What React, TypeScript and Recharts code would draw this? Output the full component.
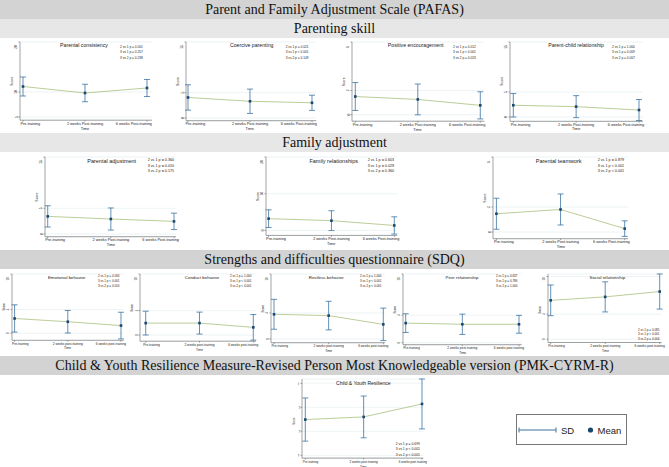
import React from "react"
import { LineChart, Line, XAxis, YAxis, CartesianGrid, ErrorBar } from "recharts"

const pafasTime = ["Pre-training", "2 weeks Post-training", "6 weeks Post-training"]
const sdqTime = ["Pre-training", "2 weeks post-training", "6 weeks post-training"]

// Parenting skill
const consistencyMean = [11.1, 9.8, 10.8]
const consistencySd = [1.9, 1.75, 1.7]
const consistencyTicks = [5, 10, 15, 20]
const consistencyP = ["2 vs 1 p = 0.001", "3 vs 1 p = 0.257", "3 vs 2 p = 0.238"]

const coerciveMean = [4.05, 3.3, 3.0]
const coerciveSd = [2.5, 2.4, 1.5]
const coerciveTicks = [0, 5, 10, 15]
const coerciveP = ["2 vs 1 p = 0.021", "3 vs 1 p < 0.001", "3 vs 2 p = 0.149"]

const encouragementMean = [1.5, 1.26, 0.77]
const encouragementSd = [1.15, 1.27, 1.12]
const encouragementTicks = [0, 2, 4, 6]
const encouragementP = ["2 vs 1 p = 0.012", "3 vs 1 p < 0.001", "3 vs 2 p = 0.023"]

const parentChildMean = [2.35, 2.07, 1.4]
const parentChildSd = [2.35, 2.2, 2.1]
const parentChildTicks = [0, 5, 10, 15]
const parentChildP = ["2 vs 1 p = 1.000", "3 vs 1 p = 0.009", "3 vs 2 p = 0.007"]

// Family adjustment
const adjustmentMean = [3.43, 2.92, 2.46]
const adjustmentSd = [2.07, 2.15, 1.6]
const adjustmentTicks = [0, 5, 10, 15]
const adjustmentP = ["2 vs 1 p = 0.360", "3 vs 1 p = 0.010", "3 vs 2 p = 0.175"]

const familyRelMean = [3.2, 2.65, 1.35]
const familyRelSd = [2.4, 2.7, 2.35]
const familyRelTicks = [0, 5, 10, 15, 20]
const familyRelP = ["2 vs 1 p = 0.603", "3 vs 1 p = 0.029", "3 vs 2 p = 0.360"]

const teamworkMean = [1.46, 1.8, 0.27]
const teamworkSd = [1.24, 1.24, 0.62]
const teamworkTicks = [0, 2, 4, 6]
const teamworkP = ["2 vs 1 p = 0.879", "3 vs 1 p < 0.001", "3 vs 2 p < 0.001"]

// SDQ
const emotionalMean = [2.5, 1.95, 1.3]
const emotionalSd = [2.3, 1.9, 2.25]
const emotionalTicks = [0, 2, 4, 6, 8, 10]
const emotionalP = ["2 vs 1 p = 0.034", "3 vs 1 p < 0.001", "3 vs 2 p = 0.016"]

const conductMean = [1.95, 1.95, 1.25]
const conductSd = [1.95, 1.8, 2.1]
const conductTicks = [0, 2, 4, 6, 8, 10]
const conductP = ["2 vs 1 p = 1.000", "3 vs 1 p < 0.001", "3 vs 2 p < 0.001"]

const restlessMean = [3.8, 3.6, 2.25]
const restlessSd = [2.3, 2.2, 2.5]
const restlessTicks = [0, 2, 4, 6, 8, 10]
const restlessP = ["2 vs 1 p = 1.000", "3 vs 1 p < 0.001", "3 vs 2 p < 0.001"]

const peerMean = [2.85, 2.68, 2.68]
const peerSd = [1.36, 1.48, 1.3]
const peerTicks = [0, 2, 4, 6, 8, 10]
const peerP = ["2 vs 1 p = 0.637", "3 vs 1 p = 0.786", "3 vs 2 p = 1.000"]

const socialMean = [6.2, 6.75, 7.6]
const socialSd = [2.45, 2.4, 2.8]
const socialTicks = [0, 2, 4, 6, 8, 10]
const socialP = ["2 vs 1 p = 0.085", "3 vs 1 p < 0.001", "3 vs 2 p = 0.004"]

// PMK-CYRM-R
const resilienceMean = [54.9, 56.0, 61.4]
const resilienceSd = [9.0, 8.7, 10.4]
const resilienceTicks = [40, 45, 50, 55, 60, 65, 70]
const resilienceP = ["2 vs 1 p = 0.699", "3 vs 1 p < 0.001", "3 vs 2 p < 0.001"]

const SANS = "'Liberation Sans', Arial, Helvetica, sans-serif"
const SERIF = "'Liberation Serif', 'Times New Roman', serif"
const LINE = "#b3c78c"
const BAR = "#3b73a3"
const DOT = "#1a476f"
const AXIS = "#666"

const rows = [
  { title: 5.2, label: 3.8, p: 3.2, titleY: 47.4, pY: [47.6, 53.2, 58.8] },
  { title: 5.5, label: 3.85, p: 3.7, titleY: 162.7, pY: [161.3, 167, 172.3] },
  { title: 4.4, label: 3.2, p: 3.0, titleY: 278.6, pY: [277.4, 282.4, 287.4] },
  { title: 5.0, label: 3.0, p: 3.4, titleY: 384.5, pY: [444.5, 450.2, 455.5] },
]

const panels = [
  { title: "Parental consistency", labels: pafasTime, mean: consistencyMean, sd: consistencySd, ticks: consistencyTicks, pvals: consistencyP, row: 0, ax: 20, first: 23, last: 147, right: 152, tTop: 42.3, tBot: 117.3, axY: 120.5, titleX: 84, pX: 120 },
  { title: "Coercive parenting", labels: pafasTime, mean: coerciveMean, sd: coerciveSd, ticks: coerciveTicks, pvals: coerciveP, row: 0, ax: 185.7, first: 187.7, last: 311.7, right: 316, tTop: 42.3, tBot: 118.3, axY: 121, titleX: 251.7, pX: 285.7 },
  { title: "Positive encouragement", labels: pafasTime, mean: encouragementMean, sd: encouragementSd, ticks: encouragementTicks, pvals: encouragementP, row: 0, ax: 351.7, first: 355, last: 480, right: 484, tTop: 42.3, tBot: 115, axY: 121.5, titleX: 415.7, pX: 453 },
  { title: "Parent-child relationship", labels: pafasTime, mean: parentChildMean, sd: parentChildSd, ticks: parentChildTicks, pvals: parentChildP, row: 0, ax: 510, first: 513.3, last: 639, right: 643, tTop: 41.7, tBot: 116.7, axY: 121, titleX: 576, pX: 612 },
  { title: "Parental adjustment", labels: pafasTime, mean: adjustmentMean, sd: adjustmentSd, ticks: adjustmentTicks, pvals: adjustmentP, row: 1, ax: 45, first: 47.7, last: 174, right: 176, tTop: 157.3, tBot: 234.3, axY: 237, titleX: 111.7, pX: 147.7 },
  { title: "Family relationships", labels: pafasTime, mean: familyRelMean, sd: familyRelSd, ticks: familyRelTicks, pvals: familyRelP, row: 1, ax: 265.7, first: 268.3, last: 394, right: 397, tTop: 157.3, tBot: 230.7, axY: 235.7, titleX: 333.7, pX: 367.7 },
  { title: "Parental teamwork", labels: pafasTime, mean: teamworkMean, sd: teamworkSd, ticks: teamworkTicks, pvals: teamworkP, row: 1, ax: 493.3, first: 496.7, last: 625, right: 628.3, tTop: 157.3, tBot: 232.3, axY: 239, titleX: 558.7, pX: 597.7 },
  { title: "Emotional behavior", labels: sdqTime, mean: emotionalMean, sd: emotionalSd, ticks: emotionalTicks, pvals: emotionalP, row: 2, ax: 11.7, first: 14.3, last: 120.7, right: 123.3, tTop: 273.7, tBot: 333, axY: 340, titleX: 66.7, pX: 98 },
  { title: "Conduct behavior", labels: sdqTime, mean: conductMean, sd: conductSd, ticks: conductTicks, pvals: conductP, row: 2, ax: 140, first: 145.7, last: 253.3, right: 256, tTop: 274.3, tBot: 335.3, axY: 341.5, titleX: 202, pX: 230 },
  { title: "Restless behavior", labels: sdqTime, mean: restlessMean, sd: restlessSd, ticks: restlessTicks, pvals: restlessP, row: 2, ax: 271, first: 274, last: 383.3, right: 385, tTop: 274.3, tBot: 339.3, axY: 343, titleX: 326.2, pX: 360 },
  { title: "Peer relationship", labels: sdqTime, mean: peerMean, sd: peerSd, ticks: peerTicks, pvals: peerP, row: 2, ax: 403.3, first: 406, last: 519.3, right: 522, tTop: 274.3, tBot: 343, axY: 345, titleX: 462, pX: 496 },
  { title: "Social relationship", labels: sdqTime, mean: socialMean, sd: socialSd, ticks: socialTicks, pvals: socialP, row: 2, ax: 548.3, first: 551, last: 660, right: 662, tTop: 277, tBot: 339.7, axY: 343, titleX: 607.3, pX: 638, pY: [331.4, 335.4, 339.8] },
  { title: "Child & Youth Resilience", labels: sdqTime, mean: resilienceMean, sd: resilienceSd, ticks: resilienceTicks, pvals: resilienceP, row: 3, ax: 301.7, first: 305, last: 421.7, right: 423, tTop: 383.7, tBot: 455.7, axY: 458.5, titleX: 363.3, pX: 395.7 },
]

const bands = [
  { text: "Parent and Family Adjustment Scale (PAFAS)", top: 0, h: 19, bg: "#d3d3d3" },
  { text: "Parenting skill", top: 19, h: 19, bg: "#e7e7e7" },
  { text: "Family adjustment", top: 133, h: 19, bg: "#e7e7e7" },
  { text: "Strengths and difficulties questionnaire (SDQ)", top: 250, h: 19, bg: "#d3d3d3" },
  { text: "Child & Youth Resilience Measure-Revised Person Most Knowledgeable version (PMK-CYRM-R)", top: 356, h: 19, bg: "#d3d3d3" },
]

const PAD_L = 30
const PAD_T = 4
const PAD_R = 10
const PAD_B = 16

function geometry(p: any) {
  const minT = p.ticks[0]
  const maxT = p.ticks[p.ticks.length - 1]
  const ppu = (p.tBot - p.tTop) / (maxT - minT)
  const dataLo = Math.min(...p.mean.map((m: number, i: number) => m - p.sd[i]))
  const dataHi = Math.max(...p.mean.map((m: number, i: number) => m + p.sd[i]))
  const lo = Math.min(minT - (p.axY - p.tBot) / ppu, dataLo)
  const hi = Math.max(maxT, dataHi)
  const plotTop = p.tTop - (hi - maxT) * ppu
  const plotBottom = p.tBot + (minT - lo) * ppu
  return { lo, hi, plotTop, plotBottom }
}

function Panel({ p }: { p: any }) {
  const r = rows[p.row]
  const { lo, hi, plotTop, plotBottom } = geometry(p)
  const W = p.right - p.ax
  const H = plotBottom - plotTop
  const data = p.labels.map((t: string, i: number) => ({ time: t, mean: p.mean[i], sd: p.sd[i] }))
  const n = p.labels.length
  const baseY = PAD_T + H + 4.4

  const xTick = (props: any) => {
    const { x, payload, index } = props
    const anchor = index === 0 ? "start" : index === n - 1 ? "end" : "middle"
    const dx = index === 0 ? -2.5 : index === n - 1 ? 5 : 0
    return (
      <text x={x + dx} y={baseY} textAnchor={anchor} fontSize={r.label} fontFamily={SANS} fill="#222">
        {payload.value}
      </text>
    )
  }
  const yTick = (props: any) => {
    const { x, y, payload } = props
    return (
      <text x={x + 0.5} y={y} transform={`rotate(-90, ${x + 0.5}, ${y})`} textAnchor="middle" fontSize={r.label * 0.85} fontFamily={SANS} fill="#222">
        {payload.value}
      </text>
    )
  }
  const dot = (props: any) => {
    const { cx, cy, index } = props
    return <rect key={`d${index}`} x={cx - 1.3} y={cy - 1.3} width={2.6} height={2.6} fill={DOT} />
  }

  return (
    <div style={{ position: "absolute", left: p.ax - PAD_L, top: plotTop - PAD_T }}>
      <LineChart width={W + PAD_L + PAD_R} height={H + PAD_T + PAD_B} data={data} margin={{ top: PAD_T, right: PAD_R, bottom: 0, left: 0 }}>
        <CartesianGrid vertical={false} stroke="#e2ecee" strokeWidth={0.6} />
        <XAxis
          dataKey="time"
          height={PAD_B}
          interval={0}
          padding={{ left: p.first - p.ax, right: p.right - p.last }}
          tick={xTick}
          tickSize={1.5}
          stroke={AXIS}
          strokeWidth={0.6}
        />
        <YAxis
          width={PAD_L}
          type="number"
          domain={[lo, hi]}
          ticks={p.ticks}
          allowDataOverflow
          tick={yTick}
          tickSize={1.5}
          tickMargin={1.5}
          stroke={AXIS}
          strokeWidth={0.6}
        />
        <Line dataKey="mean" stroke={LINE} strokeWidth={0.9} dot={dot} isAnimationActive={false}>
          <ErrorBar dataKey="sd" width={3} stroke={BAR} strokeWidth={0.8} isAnimationActive={false} />
        </Line>
      </LineChart>
    </div>
  )
}

function Annotations() {
  return (
    <svg width={669} height={467} style={{ position: "absolute", left: 0, top: 0, pointerEvents: "none" }} fontFamily={SANS}>
      {panels.map((p: any, i) => {
        const r = rows[p.row]
        const pY = p.pY || r.pY
        const midX = (p.first + p.last) / 2
        const midY = (p.tTop + p.axY) / 2
        return (
          <g key={i}>
            <text x={p.titleX} y={r.titleY} textAnchor="middle" fontSize={r.title} fill="#222">{p.title}</text>
            {p.pvals.map((s: string, j: number) => (
              <text key={j} x={p.pX} y={pY[j]} fontSize={r.p} fill="#222">{s}</text>
            ))}
            <text x={midX} y={p.axY + 9} textAnchor="middle" fontSize={r.label} fill="#222">Time</text>
            <text x={p.ax - 7} y={midY} transform={`rotate(-90, ${p.ax - 7}, ${midY})`} textAnchor="middle" fontSize={r.label * 0.9} fill="#222">Score</text>
          </g>
        )
      })}
    </svg>
  )
}

function LegendBox() {
  return (
    <div style={{ position: "absolute", left: 516, top: 414, width: 109, height: 29, border: "1px solid #777", background: "#fff" }}>
      <svg width={109} height={29} fontFamily={SANS}>
        <line x1={2} y1={15} x2={39} y2={15} stroke={BAR} strokeWidth={1} />
        <line x1={2} y1={12.5} x2={2} y2={17.5} stroke={BAR} strokeWidth={1} />
        <line x1={39} y1={12.5} x2={39} y2={17.5} stroke={BAR} strokeWidth={1} />
        <text x={44} y={18.5} fontSize={9.5} fill="#222">SD</text>
        <circle cx={73.5} cy={15} r={2.6} fill={DOT} />
        <text x={80.5} y={18.5} fontSize={9.5} fill="#222">Mean</text>
      </svg>
    </div>
  )
}

export default function App() {
  return (
    <div style={{ position: "absolute", left: 0, top: 0, width: 669, height: 467, background: "#fff", overflow: "hidden", fontFamily: SANS }}>
      {bands.map((b) => (
        <div
          key={b.text}
          style={{
            position: "absolute",
            left: 0,
            top: b.top,
            width: 669,
            height: b.h,
            background: b.bg,
            fontFamily: SERIF,
            fontSize: 14,
            lineHeight: `${b.h}px`,
            textAlign: "center",
            color: "#111",
            whiteSpace: "nowrap",
          }}
        >
          {b.text}
        </div>
      ))}
      {panels.map((p, i) => (
        <Panel key={i} p={p} />
      ))}
      <Annotations />
      <LegendBox />
    </div>
  )
}
